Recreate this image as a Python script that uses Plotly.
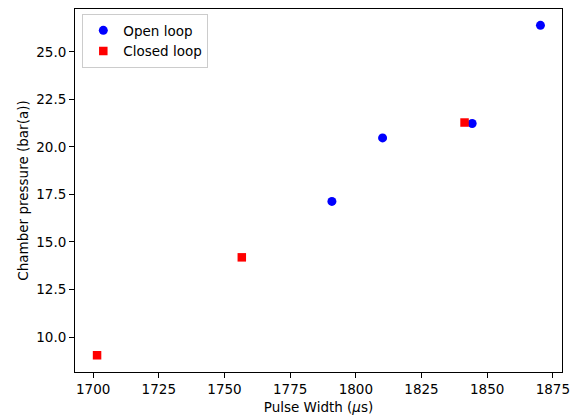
import plotly.graph_objects as go

open_x = [1790.9, 1810.2, 1844.3, 1870.3]
open_y = [17.13, 20.47, 21.23, 26.39]
closed_x = [1701.5, 1756.6, 1841.4]
closed_y = [9.04, 14.19, 21.28]

x_ticks = [1700, 1725, 1750, 1775, 1800, 1825, 1850, 1875]
y_ticks = [10.0, 12.5, 15.0, 17.5, 20.0, 22.5, 25.0]

font = dict(family="DejaVu Sans", size=13.5, color="black")

fig = go.Figure()
fig.add_trace(go.Scatter(x=open_x, y=open_y, mode="markers", name="Open loop",
                         marker=dict(symbol="circle", size=9, color="#0000ff", line=dict(width=0))))
fig.add_trace(go.Scatter(x=closed_x, y=closed_y, mode="markers", name="Closed loop",
                         marker=dict(symbol="square", size=8.5, color="#ff0000", line=dict(width=0))))

axis_common = dict(showgrid=False, zeroline=False, showline=True, linecolor="black",
                   linewidth=1, mirror=True, ticks="outside", ticklen=5, tickwidth=1,
                   tickcolor="black", tickfont=font, automargin=False)

fig.update_layout(
    width=574, height=416,
    margin=dict(l=75, r=12, t=9, b=44),
    paper_bgcolor="white", plot_bgcolor="white",
    font=font,
    showlegend=True,
    legend=dict(x=0.015, y=0.986, xanchor="left", yanchor="top",
                bgcolor="rgba(255,255,255,0.8)", bordercolor="#cccccc", borderwidth=1,
                font=font, tracegroupgap=0, itemwidth=30),
    xaxis=dict(range=[1693.1, 1878.5], tickvals=x_ticks,
               ticktext=[str(v) for v in x_ticks],
               title=dict(text="Pulse Width (<i>μ</i>s)", font=font, standoff=6),
               **axis_common),
    yaxis=dict(range=[8.16, 27.25], tickvals=y_ticks,
               ticktext=[f"{v:.1f}" for v in y_ticks],
               title=dict(text="Chamber pressure (bar(a))", font=font, standoff=4),
               **axis_common),
)

fig.write_html("out.html", config={"displayModeBar": False},
               post_script="document.body.style.margin='0';document.body.style.overflow='hidden';")
